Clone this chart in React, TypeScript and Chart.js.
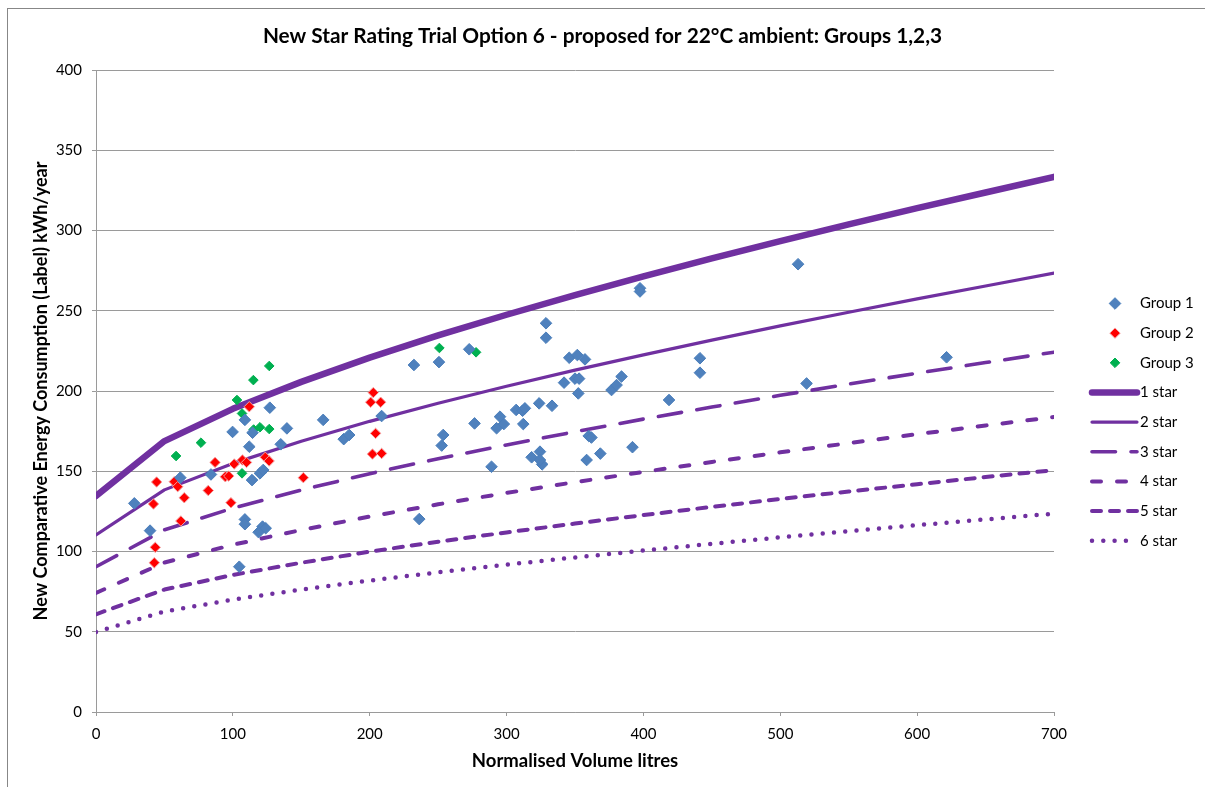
import React, { useEffect, useRef } from "react";
import { Chart, registerables } from "chart.js";

Chart.register(...registerables);

const TITLE = "New Star Rating Trial Option 6 - proposed for 22°C ambient: Groups 1,2,3";
const X_TITLE = "Normalised Volume litres";
const Y_TITLE = "New Comparative Energy Consumption (Label) kWh/year";

// Scatter groups: [volume, energy]
const GROUP1: [number, number][] = [
  [28, 130], [39.5, 113], [61.6, 146], [84, 148], [99.8, 174.5], [108.8, 182],
  [112, 165.3], [114.4, 174], [127, 189.6], [139.5, 176.7], [135, 166.8], [166, 182],
  [181, 170], [185, 172.6], [114, 144.5], [119.8, 148.7], [122.2, 150.8], [108.8, 120],
  [108.8, 117], [121.7, 115.5], [118.8, 112], [124, 114.5], [104.7, 90.5],
  [328.8, 242.2], [328.8, 233.2], [272.7, 226], [232.3, 216.2], [250.6, 218],
  [345.8, 220.7], [351.7, 222.4], [357.3, 219.7], [342, 205.2], [350, 207.7],
  [353, 207.7], [352.4, 198.5], [376.7, 200.6], [380.4, 203.7], [384, 209],
  [208.7, 184.4], [276.6, 179.8], [295.2, 184], [292.7, 176.8], [298, 179.4],
  [307, 188.2], [311.7, 187.7], [313.4, 189.2], [312.2, 179.4], [323.8, 192.3],
  [333.2, 190.8], [253.7, 172.6], [252.6, 166], [289, 152.8], [318.3, 158.7],
  [324.4, 162.2], [326, 154.3], [324.4, 157], [360, 172], [362, 171],
  [358.5, 157], [368.5, 161], [392, 165], [397.5, 264], [397.5, 262], [513, 279],
  [441.3, 220.4], [441.3, 211.4], [418.7, 194.4], [519.2, 204.7], [621.5, 221],
  [236.2, 120.2],
];
const GROUP2: [number, number][] = [
  [112, 190.2], [87, 155.5], [101, 154.5], [107, 157], [110, 155.5], [123.7, 158.7],
  [126.5, 156.4], [94.5, 146.6], [97, 147], [151.5, 146], [44.3, 143.3], [57.2, 143.5],
  [59.7, 140.4], [64.5, 133.5], [82, 138], [42, 129.6], [98.6, 130.4], [62, 119],
  [43.3, 102.6], [42.6, 93], [202.6, 199], [200.7, 193], [208, 193], [204.3, 173.6],
  [202, 160.7], [208.7, 161.1],
];
const GROUP3: [number, number][] = [
  [126.6, 215.6], [115, 206.8], [103, 194.4], [106.7, 186], [115.2, 176], [119.8, 177.4],
  [126.6, 176.3], [76.7, 167.8], [58.5, 159.5], [106.7, 148.7], [250.9, 226.8],
  [277.7, 224.1],
];

// Star rating lines, read at these volumes
const STAR_X = [0, 50, 100, 150, 200, 250, 300, 350, 400, 450, 500, 550, 600, 650, 700];
const STAR1 = [134.6, 168.8, 188.9, 205.7, 220.8, 234.6, 247.5, 259.7, 271.4, 282.6, 293.4, 303.8, 313.9, 323.7, 333.4];
const STAR2 = [110.4, 138.4, 154.9, 168.7, 181.1, 192.4, 203.0, 213.0, 222.5, 231.7, 240.6, 249.1, 257.4, 265.4, 273.4];
const STAR3 = [90.5, 113.5, 127.0, 138.3, 148.5, 157.8, 166.4, 174.6, 182.5, 190.0, 197.3, 204.3, 211.1, 217.7, 224.2];
const STAR4 = [74.2, 93.1, 104.2, 113.4, 121.8, 129.4, 136.5, 143.2, 149.6, 155.8, 161.8, 167.5, 173.1, 178.5, 183.8];
const STAR5 = [60.9, 76.3, 85.4, 93.0, 99.9, 106.1, 111.9, 117.4, 122.7, 127.8, 132.7, 137.4, 141.9, 146.4, 150.7];
const STAR6 = [49.9, 62.6, 70.0, 76.3, 81.9, 87.0, 91.8, 96.3, 100.6, 104.8, 108.8, 112.6, 116.4, 120.0, 123.6];

const Y_MIN = 0, Y_MAX = 400, Y_STEP = 50;
const X_MIN = 0, X_MAX = 700, X_STEP = 100;

const FONT = "Lato, 'Open Sans', sans-serif";
const PURPLE = "#7030A0";
const GRID = "#9a9a9a";

const pts = (arr: [number, number][]) => arr.map(([x, y]) => ({ x, y }));
const line = (ys: number[]) => STAR_X.map((x, i) => ({ x, y: ys[i] }));

export default function App() {
  const ref = useRef<HTMLCanvasElement | null>(null);

  useEffect(() => {
    if (!ref.current) return;

    const frame = {
      id: "frame",
      beforeDraw(chart: any) {
        const ctx = chart.ctx;
        ctx.save();
        ctx.fillStyle = "#fff";
        ctx.fillRect(0, 0, chart.width, chart.height);
        ctx.strokeStyle = "#878787";
        ctx.lineWidth = 1;
        ctx.strokeRect(7.5, 8.5, chart.width + 20, chart.height + 20);
        // chart title, centred on the whole chart frame
        ctx.fillStyle = "#000";
        ctx.font = `bold 20.8px ${FONT}`;
        ctx.textAlign = "center";
        ctx.textBaseline = "middle";
        ctx.fillText(TITLE, 602.5, 36.5);
        ctx.restore();
      },
    };

    const legend = {
      id: "sideLegend",
      afterDraw(chart: any) {
        const ctx = chart.ctx;
        const x0 = 1092, x1 = 1137, cx = 1115, tx = 1140;
        const y0 = 303.5, dy = 29.65;
        ctx.save();
        chart.data.datasets.forEach((ds: any, i: number) => {
          const y = y0 + i * dy;
          if (ds.showLine) {
            ctx.beginPath();
            ctx.strokeStyle = ds.borderColor;
            ctx.lineWidth = ds.borderWidth;
            ctx.lineCap = ds.borderCapStyle || "butt";
            ctx.setLineDash(ds.borderDash || []);
            ctx.moveTo(x0, y);
            ctx.lineTo(x1, y);
            ctx.stroke();
            ctx.setLineDash([]);
          } else {
            const r = ds.pointRadius;
            ctx.beginPath();
            ctx.moveTo(cx - r, y);
            ctx.lineTo(cx, y - r);
            ctx.lineTo(cx + r, y);
            ctx.lineTo(cx, y + r);
            ctx.closePath();
            ctx.fillStyle = ds.backgroundColor;
            ctx.fill();
            ctx.lineWidth = ds.borderWidth;
            ctx.strokeStyle = ds.borderColor;
            ctx.stroke();
          }
          ctx.fillStyle = "#000";
          ctx.font = `15px ${FONT}`;
          ctx.textAlign = "left";
          ctx.textBaseline = "middle";
          ctx.fillText(ds.label, tx, y);
        });
        ctx.restore();
      },
    };

    const starDs = (label: string, ys: number[], width: number, dash: number[], cap: string) => ({
      label,
      data: line(ys),
      showLine: true,
      borderColor: PURPLE,
      backgroundColor: PURPLE,
      borderWidth: width,
      borderDash: dash,
      borderCapStyle: cap,
      borderJoinStyle: "round",
      pointRadius: 0,
      pointHoverRadius: 0,
      fill: false,
      tension: 0,
      order: 2,
    });

    const chart = new Chart(ref.current, {
      type: "scatter",
      data: {
        datasets: [
          {
            label: "Group 1",
            data: pts(GROUP1),
            pointStyle: "rectRot",
            pointRadius: 5.8,
            backgroundColor: "#4F81BD",
            borderColor: "#4A7EBB",
            borderWidth: 1,
            order: 1,
          },
          {
            label: "Group 2",
            data: pts(GROUP2),
            pointStyle: "rectRot",
            pointRadius: 5.2,
            backgroundColor: "#FF0000",
            borderColor: "#F4A0A0",
            borderWidth: 1,
            order: 1,
          },
          {
            label: "Group 3",
            data: pts(GROUP3),
            pointStyle: "rectRot",
            pointRadius: 4.8,
            backgroundColor: "#00B050",
            borderColor: "#00B050",
            borderWidth: 1,
            order: 1,
          },
          starDs("1 star", STAR1, 6.5, [], "round"),
          starDs("2 star", STAR2, 3.2, [], "round"),
          starDs("3 star", STAR3, 3.6, [23.5, 15.5], "round"),
          starDs("4 star", STAR4, 4, [9, 16], "round"),
          starDs("5 star", STAR5, 4, [9, 9], "round"),
          starDs("6 star", STAR6, 4.5, [0, 11.3], "round"),
        ] as any,
      },
      options: {
        responsive: false,
        animation: false,
        events: [],
        layout: { padding: { left: 0, right: 151, top: 70, bottom: 0 } },
        plugins: {
          legend: { display: false },
          tooltip: { enabled: false },
          title: { display: false },
        },
        scales: {
          x: {
            type: "linear",
            min: X_MIN,
            max: X_MAX,
            afterFit(scale: any) {
              scale.height = 75;
            },
            ticks: {
              stepSize: X_STEP,
              color: "#000",
              font: { family: FONT, size: 15 },
              padding: 9,
              maxRotation: 0,
            },
            grid: { display: true, drawOnChartArea: false, drawTicks: true, tickLength: 4, color: GRID },
            border: { display: true, color: GRID },
            title: {
              display: true,
              text: X_TITLE,
              color: "#000",
              font: { family: FONT, size: 18.5, weight: "bold" },
              padding: { top: 0, bottom: 14.4 },
            },
          },
          y: {
            type: "linear",
            min: Y_MIN,
            max: Y_MAX,
            afterFit(scale: any) {
              scale.width = 96;
            },
            ticks: {
              stepSize: Y_STEP,
              color: "#000",
              font: { family: FONT, size: 15 },
              padding: 10,
            },
            grid: { display: true, drawTicks: true, tickLength: 4, color: GRID },
            border: { display: true, color: GRID },
            title: {
              display: true,
              text: Y_TITLE,
              color: "#000",
              font: { family: FONT, size: 18, weight: "bold" },
              padding: { top: 30.2, bottom: 0 },
            },
          },
        },
      },
      plugins: [frame, legend],
    } as any);

    return () => chart.destroy();
  }, []);

  return (
    <div style={{ position: "absolute", left: 0, top: 0, width: 1205, height: 787 }}>
      <canvas ref={ref} width={1205} height={787} style={{ display: "block", width: 1205, height: 787 }} />
    </div>
  );
}
